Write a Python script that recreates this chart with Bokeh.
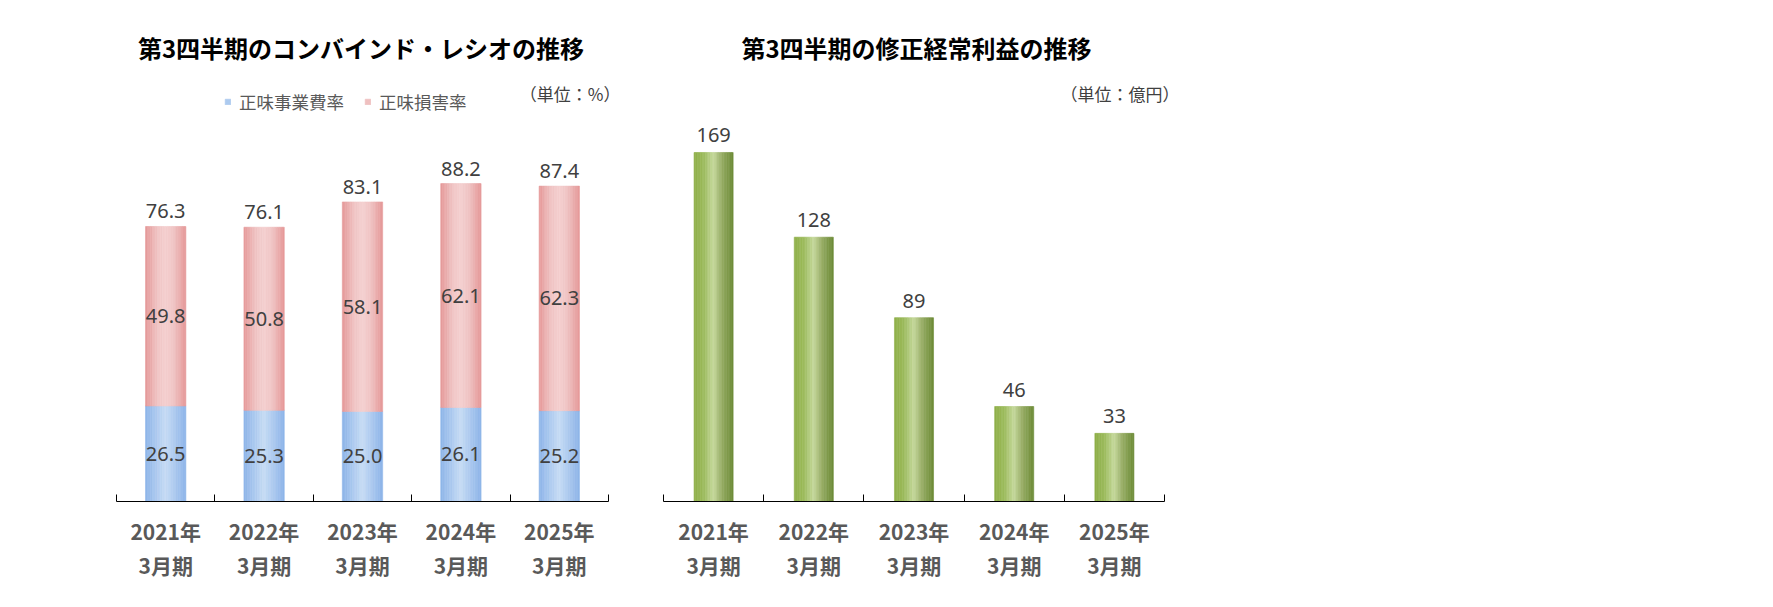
import numpy as np
from bokeh.plotting import figure
from bokeh.models import ColumnDataSource, FixedTicker, Label, Legend, LegendItem, Range1d
from bokeh.layouts import row
from bokeh.transform import dodge
from bokeh.embed import file_html
from bokeh.resources import INLINE
from bokeh.core.properties import value

# ---------------- data ----------------
categories = ["2021年\n3月期", "2022年\n3月期", "2023年\n3月期", "2024年\n3月期", "2025年\n3月期"]
expense_ratio = [26.5, 25.3, 25.0, 26.1, 25.2]      # 正味事業費率
loss_ratio = [49.8, 50.8, 58.1, 62.1, 62.3]         # 正味損害率
combined_ratio = [76.3, 76.1, 83.1, 88.2, 87.4]     # コンバインド・レシオ
ordinary_profit = [169, 128, 89, 46, 33]            # 修正経常利益（億円）

title_left = "第3四半期のコンバインド・レシオの推移"
title_right = "第3四半期の修正経常利益の推移"
unit_left = "（単位：%）"
unit_right = "（単位：億円）"
series_names = ["正味事業費率", "正味損害率"]

# ---------------- styles ----------------
JP = "Noto Sans CJK JP"
NUM = "Noto Sans"
LABEL_COLOR = "#404040"
AXIS_TEXT = "#595959"

BLUE_STOPS = [(0.0, (141, 180, 232)), (0.5, (198, 220, 245)), (1.0, (141, 180, 232))]
RED_STOPS = [(0.0, (229, 152, 152)), (0.3, (240, 196, 196)), (0.5, (244, 208, 208)),
             (0.7, (240, 196, 196)), (1.0, (229, 152, 152))]
GREEN_STOPS = [(0.0, (143, 175, 72)), (0.25, (156, 187, 92)), (0.5, (197, 216, 156)),
               (0.72, (150, 172, 100)), (1.0, (108, 138, 54))]


def interp(stops, t):
    for (t0, c0), (t1, c1) in zip(stops[:-1], stops[1:]):
        if t0 <= t <= t1:
            f = (t - t0) / (t1 - t0)
            c = [round(a + (b - a) * f) for a, b in zip(c0, c1)]
            return "#%02x%02x%02x" % tuple(c)
    return "#%02x%02x%02x" % stops[-1][1]


def gradient_bars(p, src, top, bottom, stops, width, n=24):
    rs = []
    for k in range(n):
        t = (k + 0.5) / n
        off = -width / 2 + width * t
        col = interp(stops, t)
        r = p.vbar(x=dodge("idx", off), top=top, bottom=bottom, width=width / n,
                   source=src, fill_color=col, line_color=col, line_width=0.6)
        rs.append(r)
    return rs


def make_fig(axis_w, extra_w, left, y_end):
    # axis spans axis_w pixels; the frame gets extra_w more room on the right for the unit note
    n = len(categories)
    x_end = (n - 0.5) + extra_w * n / axis_w
    p = figure(frame_width=axis_w + extra_w, frame_height=501, min_border_left=left,
               min_border_right=0, min_border_top=0, min_border_bottom=106,
               x_range=Range1d(-0.5, x_end), y_range=Range1d(0, y_end),
               output_backend="svg", toolbar_location=None, tools="")
    p.yaxis.visible = False
    p.grid.visible = False
    p.outline_line_color = None
    p.background_fill_color = "white"
    p.border_fill_color = "white"
    ax = p.xaxis[0]
    ax.bounds = (-0.5, n - 0.5)
    ax.ticker = FixedTicker(ticks=list(range(n)),
                            minor_ticks=[i - 0.5 for i in range(n + 1)])
    ax.major_label_overrides = {i: c for i, c in enumerate(categories)}
    ax.major_tick_in = 0
    ax.major_tick_out = 0
    ax.minor_tick_in = 7
    ax.minor_tick_out = 0
    ax.minor_tick_line_color = "black"
    ax.axis_line_color = "black"
    ax.axis_line_width = 1
    ax.major_label_text_font = JP
    ax.major_label_text_font_size = "21px"
    ax.major_label_text_font_style = "bold"
    ax.major_label_text_color = AXIS_TEXT
    ax.major_label_text_line_height = 1.16
    ax.major_label_standoff = 14
    return p


# ---------------- left chart ----------------
exp = np.array(expense_ratio)
los = np.array(loss_ratio)
src_l = ColumnDataSource(dict(
    idx=list(range(len(categories))),
    exp_top=exp, loss_bottom=exp, loss_top=exp + los,
    exp_mid=exp / 2, loss_mid=exp + los / 2,
    exp_txt=["%.1f" % v for v in expense_ratio],
    loss_txt=["%.1f" % v for v in loss_ratio],
    tot_txt=["%.1f" % v for v in combined_ratio],
))

p1 = make_fig(492, 32, 116, 139.0)
blue_rs = gradient_bars(p1, src_l, "exp_top", 0, BLUE_STOPS, 0.41)
red_rs = gradient_bars(p1, src_l, "loss_top", "loss_bottom", RED_STOPS, 0.41)

common_txt = dict(text_font=value(NUM), text_font_size="20px", text_color=LABEL_COLOR,
                  text_align="center")
p1.text(x="idx", y="exp_mid", text="exp_txt", source=src_l, text_baseline="middle", **common_txt)
p1.text(x="idx", y="loss_mid", text="loss_txt", source=src_l, text_baseline="middle", **common_txt)
p1.text(x="idx", y="loss_top", text="tot_txt", source=src_l, text_baseline="alphabetic",
        y_offset=-15, **common_txt)

legend = Legend(items=[LegendItem(label=series_names[0], renderers=[blue_rs[6]]),
                       LegendItem(label=series_names[1], renderers=[red_rs[6]])],
                orientation="horizontal", location=(108, 387),
                glyph_width=7, glyph_height=7, label_standoff=8, spacing=20,
                padding=0, margin=0, border_line_color=None, background_fill_alpha=0,
                label_text_font=JP, label_text_font_size="17.5px",
                label_text_color=AXIS_TEXT, label_height=16)
p1.add_layout(legend)

p1.add_layout(Label(x=360.5 - 116, y=501 - 47, x_units="screen", y_units="screen",
                    text=title_left, text_align="center", text_baseline="middle",
                    text_font=JP, text_font_size="24px", text_font_style="bold",
                    text_color="#000000"))
p1.add_layout(Label(x=620 - 116, y=501 - 93, x_units="screen", y_units="screen",
                    text=unit_left, text_align="right", text_baseline="middle",
                    text_font=JP, text_font_size="17px", text_color=LABEL_COLOR))

# ---------------- right chart ----------------
src_r = ColumnDataSource(dict(
    idx=list(range(len(categories))),
    val=ordinary_profit,
    txt=[str(v) for v in ordinary_profit],
))
p2 = make_fig(501, 40, 23, 242.6)
gradient_bars(p2, src_r, "val", 0, GREEN_STOPS, 0.39)
p2.text(x="idx", y="val", text="txt", source=src_r, text_baseline="alphabetic",
        y_offset=-17, **common_txt)
p2.add_layout(Label(x=916 - 663, y=501 - 47, x_units="screen", y_units="screen",
                    text=title_right, text_align="center", text_baseline="middle",
                    text_font=JP, text_font_size="24px", text_font_style="bold",
                    text_color="#000000"))
p2.add_layout(Label(x=1179 - 663, y=501 - 93, x_units="screen", y_units="screen",
                    text=unit_right, text_align="right", text_baseline="middle",
                    text_font=JP, text_font_size="17px", text_color=LABEL_COLOR))

layout = row(p1, p2)
html = file_html(layout, INLINE)
html = html.replace("<head>", "<head><style>body{margin:0;padding:0;background:white;}</style>", 1)
open("out.html", "w").write(html)
